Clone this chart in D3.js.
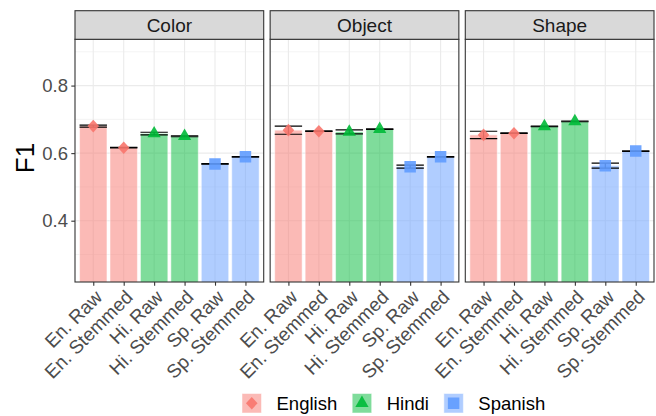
<!DOCTYPE html>
<html>
<head>
<meta charset="utf-8">
<script src="https://cdn.jsdelivr.net/npm/d3@7"></script>
<style>
  body { margin: 0; background: #fff; }
  svg { display: block; font-family: "Liberation Sans", Arial, sans-serif; }
</style>
</head>
<body>
<svg id="chart" width="656" height="416"></svg>
<script>
// ---- data ----
const facets = ["Color", "Object", "Shape"];
const conditions = ["En. Raw", "En. Stemmed", "Hi. Raw", "Hi. Stemmed", "Sp. Raw", "Sp. Stemmed"];
const conditionLanguage = ["English", "English", "Hindi", "Hindi", "Spanish", "Spanish"];
const languages = ["English", "Hindi", "Spanish"];

const colorF1 = [0.680, 0.616, 0.658, 0.650, 0.568, 0.589];
const colorSe = [0.003, 0.001, 0.004, 0.0015, 0.001, 0.001];
const objectF1 = [0.668, 0.665, 0.663, 0.671, 0.560, 0.589];
const objectSe = [0.012, 0.001, 0.006, 0.001, 0.0045, 0.001];
const shapeF1 = [0.654, 0.659, 0.679, 0.694, 0.563, 0.606];
const shapeSe = [0.011, 0.001, 0.001, 0.001, 0.0074, 0.001];

const yTicks = [0.4, 0.6, 0.8];
const yMinorTicks = [0.3, 0.5, 0.7, 0.9];
const yLabel = "F1";

// rows for drawing
const f1ByFacet = { Color: colorF1, Object: objectF1, Shape: shapeF1 };
const seByFacet = { Color: colorSe, Object: objectSe, Shape: shapeSe };
const rows = facets.flatMap(f => conditions.map((c, i) => ({
  facet: f, cond: c, lang: conditionLanguage[i],
  f1: f1ByFacet[f][i], se: seByFacet[f][i]
})));

// ---- layout ----
const svg = d3.select("#chart");
const panelTop = 39.3, panelBottom = 282, stripTop = 10.7;
const facetX = d3.scaleBand().domain(facets).range([75, 654]).paddingInner(0.033);
const pw = facetX.bandwidth();
const x = d3.scalePoint().domain(conditions).range([0, pw]).padding(0.6);
const barW = 0.9 * x.step();
const y = d3.scaleLinear().domain([0.2185, 0.937]).range([panelBottom, panelTop]);
const color = d3.scaleOrdinal(languages, ["#F8766D", "#00BA38", "#619CFF"]);

const diamond = (rx, ry) => `M0,${-ry}L${rx},0L0,${ry}L${-rx},0Z`;
const shapePath = {
  English: diamond(5.8, 6.3),
  Hindi: d3.symbol(d3.symbolTriangle, 76)(),
  Spanish: d3.symbol(d3.symbolSquare, 132)()
};

const gridCol = "#EBEBEB", borderCol = "#333333";

facets.forEach((f, fi) => {
  const g = svg.append("g").attr("transform", `translate(${facetX(f)},0)`);
  const clipId = "clip-" + fi;
  g.append("clipPath").attr("id", clipId)
    .append("rect").attr("x", 0).attr("y", panelTop).attr("width", pw).attr("height", panelBottom - panelTop);

  // grid
  g.selectAll(".minor").data(yMinorTicks).join("line")
    .attr("x1", 0).attr("x2", pw).attr("y1", d => y(d)).attr("y2", d => y(d))
    .attr("stroke", gridCol).attr("stroke-width", 0.6);
  g.selectAll(".majorY").data(yTicks).join("line")
    .attr("x1", 0).attr("x2", pw).attr("y1", d => y(d)).attr("y2", d => y(d))
    .attr("stroke", gridCol).attr("stroke-width", 1.1);
  g.selectAll(".majorX").data(conditions).join("line")
    .attr("x1", d => x(d)).attr("x2", d => x(d)).attr("y1", panelTop).attr("y2", panelBottom)
    .attr("stroke", gridCol).attr("stroke-width", 1.1);

  const data = rows.filter(r => r.facet === f);
  const inner = g.append("g").attr("clip-path", `url(#${clipId})`);

  // bars
  inner.selectAll("rect.bar").data(data).join("rect")
    .attr("x", d => x(d.cond) - barW / 2).attr("width", barW)
    .attr("y", d => y(d.f1)).attr("height", d => y(0) - y(d.f1))
    .attr("fill", d => color(d.lang)).attr("fill-opacity", 0.5)
    .attr("stroke", "#fff").attr("stroke-opacity", 0.5).attr("stroke-width", 1);

  // error bars
  const eb = inner.selectAll("g.eb").data(data).join("g")
    .attr("stroke", "#000").attr("stroke-width", 1.1).attr("fill", "none");
  eb.append("line").attr("x1", d => x(d.cond)).attr("x2", d => x(d.cond))
    .attr("y1", d => y(d.f1 + d.se)).attr("y2", d => y(d.f1 - d.se));
  eb.append("line").attr("x1", d => x(d.cond) - barW / 2).attr("x2", d => x(d.cond) + barW / 2)
    .attr("y1", d => y(d.f1 + d.se)).attr("y2", d => y(d.f1 + d.se));
  eb.append("line").attr("x1", d => x(d.cond) - barW / 2).attr("x2", d => x(d.cond) + barW / 2)
    .attr("y1", d => y(d.f1 - d.se)).attr("y2", d => y(d.f1 - d.se));

  // points
  inner.selectAll("path.pt").data(data).join("path")
    .attr("transform", d => `translate(${x(d.cond)},${y(d.f1)})`)
    .attr("d", d => shapePath[d.lang])
    .attr("fill", d => color(d.lang)).attr("fill-opacity", 0.9);

  // panel border
  g.append("rect").attr("x", 0).attr("y", panelTop).attr("width", pw).attr("height", panelBottom - panelTop)
    .attr("fill", "none").attr("stroke", borderCol).attr("stroke-width", 1.1);

  // strip
  g.append("rect").attr("x", 0).attr("y", stripTop).attr("width", pw).attr("height", panelTop - stripTop)
    .attr("fill", "#D9D9D9").attr("stroke", borderCol).attr("stroke-width", 1.1);
  g.append("text").attr("x", pw / 2).attr("y", (stripTop + panelTop) / 2).attr("dy", "0.36em")
    .attr("text-anchor", "middle").attr("font-size", 19).attr("fill", "#1A1A1A").text(f);

  // x axis
  const ax = g.append("g").attr("transform", `translate(0,${panelBottom})`)
    .call(d3.axisBottom(x).tickSize(3.7).tickSizeOuter(0));
  ax.select(".domain").remove();
  ax.selectAll(".tick line").attr("stroke", borderCol).attr("stroke-width", 1.1);
  ax.selectAll(".tick text")
    .attr("x", 0).attr("y", 0).attr("dy", "0.72em")
    .attr("transform", "translate(0,6.6) rotate(-45)")
    .attr("text-anchor", "end").attr("font-size", 19).attr("fill", "#4D4D4D")
    .attr("font-family", null);

  if (fi === 0) {
    const ay = g.append("g").call(d3.axisLeft(y).tickValues(yTicks).tickFormat(d3.format(".1f"))
      .tickSize(3.7).tickPadding(3.3).tickSizeOuter(0));
    ay.select(".domain").remove();
    ay.selectAll(".tick line").attr("stroke", borderCol).attr("stroke-width", 1.1);
    ay.selectAll(".tick text").attr("font-size", 18.5).attr("fill", "#4D4D4D").attr("font-family", null);
  }
});

// y title
svg.append("text")
  .attr("transform", "translate(34,158) rotate(-90)")
  .attr("text-anchor", "middle").attr("font-size", 26).attr("fill", "#000").text(yLabel);

// legend
const legend = svg.append("g").attr("transform", "translate(242,393.5)");
let lx = 0;
languages.forEach(l => {
  const item = legend.append("g").attr("transform", `translate(${lx},0)`);
  item.append("rect").attr("width", 19.5).attr("height", 19.5)
    .attr("fill", color(l)).attr("fill-opacity", 0.5)
    .attr("stroke", "#fff").attr("stroke-opacity", 0.5).attr("stroke-width", 1);
  item.append("path").attr("transform", "translate(9.75,9.75)").attr("d", shapePath[l])
    .attr("fill", color(l)).attr("fill-opacity", 0.9);
  const t = item.append("text").attr("x", 34.5).attr("y", 9.75).attr("dy", "0.36em")
    .attr("font-size", 18.5).attr("fill", "#000").text(l);
  lx += 34.5 + t.node().getComputedTextLength() + 15;
});
</script>
</body>
</html>
